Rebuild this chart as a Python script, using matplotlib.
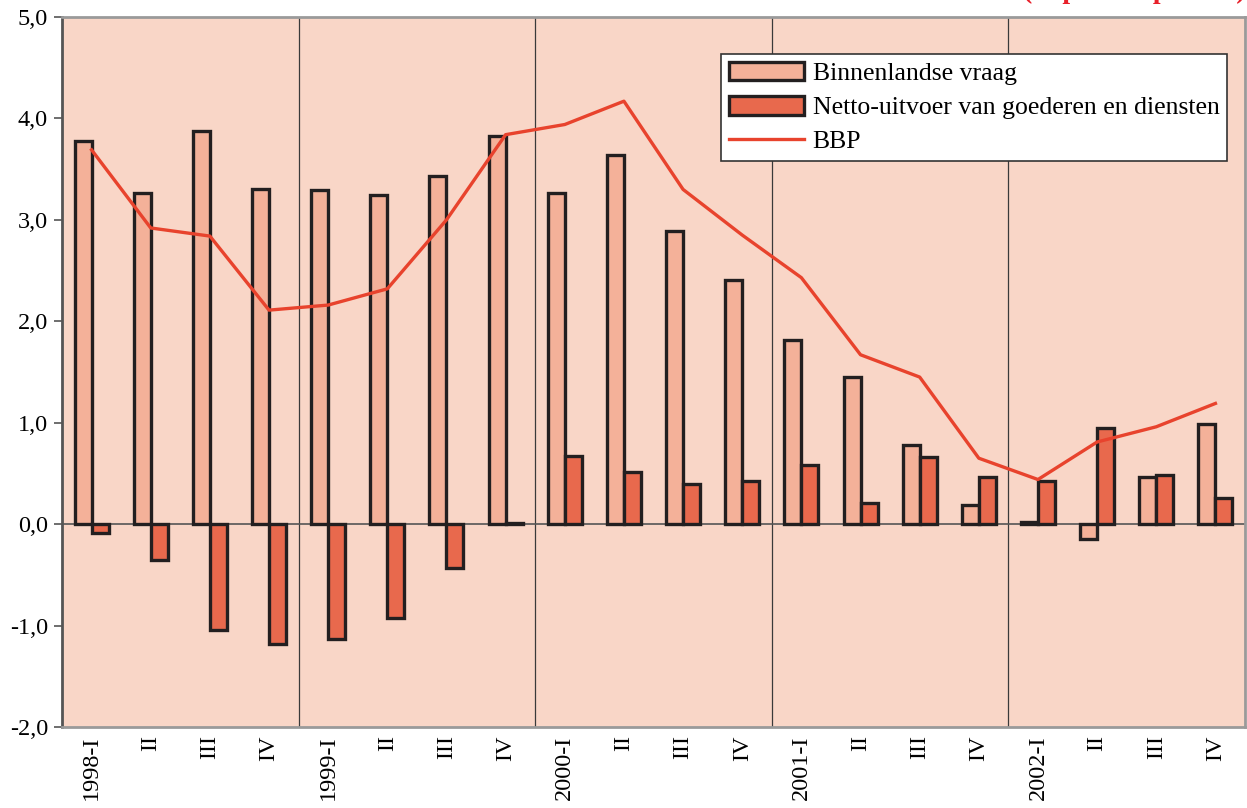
import numpy as np
import matplotlib
matplotlib.use('Agg')
import matplotlib.pyplot as plt

matplotlib.rcParams['font.family'] = ['Liberation Serif', 'DejaVu Serif']

# kwartalen 1998-2002
labels = ['1998-I', 'II', 'III', 'IV',
          '1999-I', 'II', 'III', 'IV',
          '2000-I', 'II', 'III', 'IV',
          '2001-I', 'II', 'III', 'IV',
          '2002-I', 'II', 'III', 'IV']

binnenlands = [3.78, 3.26, 3.88, 3.30,
               3.29, 3.25, 3.43, 3.83,
               3.26, 3.64, 2.89, 2.41,
               1.82, 1.45, 0.78, 0.19,
               0.02, -0.15, 0.46, 0.99]

netto_uitvoer = [-0.09, -0.35, -1.04, -1.18,
                 -1.13, -0.93, -0.43, 0.01,
                 0.67, 0.51, 0.40, 0.43,
                 0.58, 0.21, 0.66, 0.46,
                 0.43, 0.95, 0.48, 0.26]

bbp = [3.69, 2.92, 2.84, 2.11,
       2.16, 2.32, 3.00, 3.84,
       3.94, 4.17, 3.30, 2.85,
       2.43, 1.67, 1.45, 0.65,
       0.44, 0.81, 0.96, 1.19]

x = np.arange(len(labels))
w = 0.287

fig = plt.figure(figsize=(12.47, 8.08), dpi=100)
ax = fig.add_axes([62/1247., 1-727/808., 1183/1247., 710/808.])
ax.set_facecolor('#F9D6C7')

b1 = ax.bar(x - w/2, binnenlands, w, color='#F4B199', edgecolor='#231F20',
            linewidth=2.4, label='Binnenlandse vraag', zorder=3)
b2 = ax.bar(x + w/2, netto_uitvoer, w, color='#E8694D', edgecolor='#231F20',
            linewidth=2.4, label='Netto-uitvoer van goederen en diensten', zorder=3)
l1, = ax.plot(x, bbp, color='#E8432D', linewidth=2.4, label='BBP', zorder=4)

# scheiding tussen de jaren
for xv in [3.5, 7.5, 11.5, 15.5]:
    ax.axvline(xv, color='#3a3a3a', linewidth=0.9, zorder=2)
ax.axhline(0, color='#555555', linewidth=1.2, zorder=2)

ax.set_xlim(-0.5, 19.5)
ax.set_ylim(-2, 5)
yt = np.arange(-2, 6, 1)
ax.set_yticks(yt)
ax.set_yticklabels([('%.1f' % v).replace('.', ',') for v in yt])
ax.set_xticks(x)
ax.set_xticklabels(labels, rotation=90, va='top', ha='center')
ax.tick_params(axis='x', length=0, pad=6, labelsize=17.5)
ax.tick_params(axis='y', length=6, width=1.2, color='#555555', labelsize=17.5, pad=4)

for s in ['top', 'right', 'bottom']:
    ax.spines[s].set_color('#9a9a9a')
    ax.spines[s].set_linewidth(2)
ax.spines['left'].set_color('#555555')
ax.spines['left'].set_linewidth(2)

leg = ax.legend([b1, b2, l1],
                ['Binnenlandse vraag', 'Netto-uitvoer van goederen en diensten', 'BBP'],
                loc='upper right', bbox_to_anchor=(0.985, 0.948),
                fancybox=False, framealpha=1, edgecolor='#333333',
                fontsize=18.5, handlelength=2.9, handleheight=0.75,
                labelspacing=0.42, borderpad=0.3, handletextpad=0.35,
                borderaxespad=0)
leg.get_frame().set_linewidth(1.2)

fig.text(0.999, 1 + 2/808., '(in procentpunten)', color='#E8202A',
         fontsize=20, fontweight='bold', ha='right', va='baseline')

fig.savefig('out.png', dpi=100, facecolor='white')
